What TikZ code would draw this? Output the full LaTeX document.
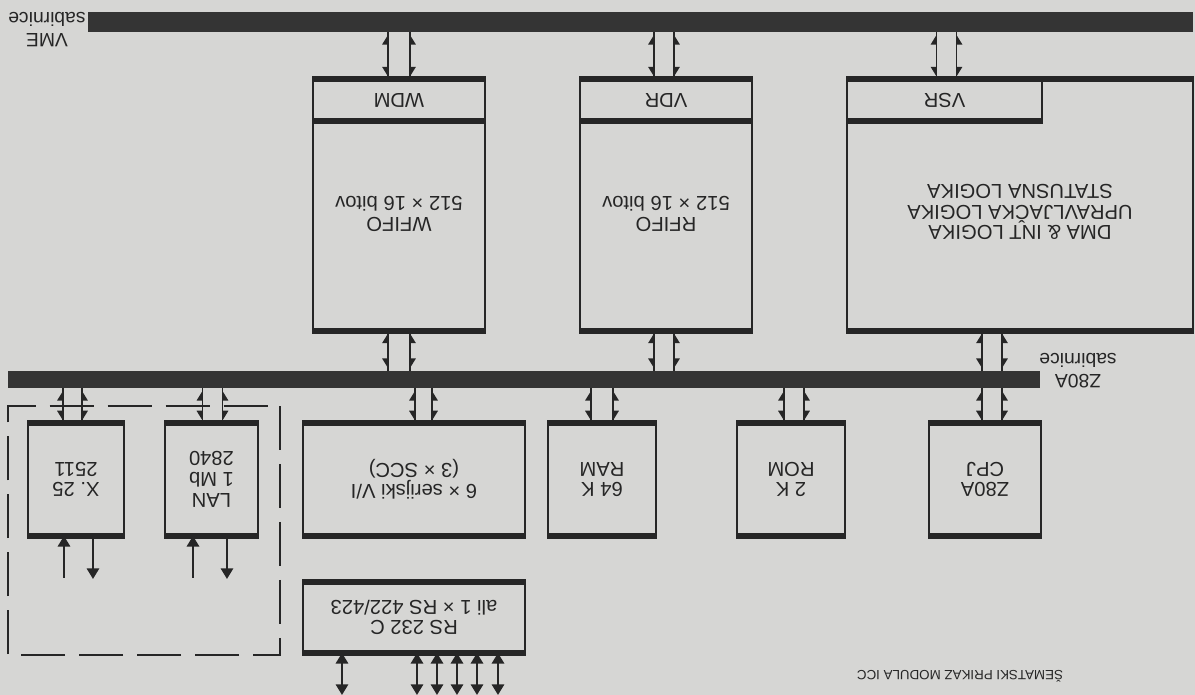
\documentclass[tikz,border=0pt]{standalone}
\usepackage{fontspec}
\setmainfont{Liberation Sans}
\usetikzlibrary{arrows.meta, calc, decorations.markings}
\definecolor{papir}{RGB}{214,214,212}
\definecolor{tinta}{RGB}{38,38,38}
\definecolor{sabirnica}{RGB}{52,52,52}

\begin{document}
\begin{tikzpicture}[
    x=0.02cm, y=0.02cm, rotate=180, transform shape,
    blok/.style={rectangle, draw=tinta, line width=1.1pt, inner sep=0pt},
    reg/.style={rectangle, draw=tinta, line width=1.1pt, inner sep=0pt, minimum height=0.8cm},
    rub/.style={draw=tinta, line width=3.2pt},
    bus/.style={rectangle, fill=sabirnica, inner sep=0pt},
    opis/.style={align=center, text=tinta, font=\fontsize{11.5}{11.8}\selectfont},
    naslov/.style={text=tinta, font=\fontsize{7.6}{9}\selectfont},
    spoj/.style={draw=tinta, line width=1.1pt, postaction={decorate, decoration={markings,
        mark=at position 0 with {\fill[tinta] (1.5pt,0pt) -- (7pt,0pt) -- (7pt,#1) -- cycle;},
        mark=at position 1 with {\fill[tinta] (-1.5pt,0pt) -- (-7pt,0pt) -- (-7pt,#1) -- cycle;}}}},
    spojl/.style={spoj=3.4pt},
    spojd/.style={spoj=-3.4pt},
    pijl/.style={draw=tinta, line width=1.1pt, -{Triangle[length=6pt, width=7pt]}},
    dvo/.style={draw=tinta, line width=1.1pt, {Triangle[length=6pt, width=7pt]}-{Triangle[length=6pt, width=7pt]}},
    okvir/.style={draw=tinta, line width=1.1pt, dash pattern=on 25pt off 8pt}
]
    \fill[papir] (0,0) rectangle (1195,695);
    \useasboundingbox (0,0) rectangle (1195,695);

    % Sabirnice
    \node[bus, minimum width=22.1cm, minimum height=0.4cm] (vme) at (554.5,22) {};
    \node[bus, minimum width=20.64cm, minimum height=0.34cm] (z80) at (671,379.5) {};
    \node[opis, font=\fontsize{11}{12}\selectfont] (vmetxt) at (1148,30) {VME\\sabirnice};
    \node[opis, font=\fontsize{11}{12}\selectfont] (z80txt) at (117,371) {Z80A\\sabirnice};

    % VME strana
    \node[blok, minimum width=3.44cm, minimum height=5cm] (wdm) at (796,205) {};
    \node[reg, opis, minimum width=3.44cm, anchor=south] (wdmreg) at (wdm.south) {WDM};
    \node[opis] (wfifo) at (796,214) {WFIFO\\512 × 16 bitov};

    \node[blok, minimum width=3.44cm, minimum height=5cm] (vdr) at (529,205) {};
    \node[reg, opis, minimum width=3.44cm, anchor=south] (vdrreg) at (vdr.south) {VDR};
    \node[opis] (rfifo) at (529,214) {RFIFO\\512 × 16 bitov};

    \node[blok, minimum width=6.92cm, minimum height=5cm] (dma) at (175,205) {};
    \node[reg, opis, minimum width=3.9cm, anchor=south east] (vsr) at (dma.south east) {VSR};
    \node[opis] (dmalog) at (175,212) {DMA \& INT LOGIKA\\UPRAVLJAČKA LOGIKA\\STATUSNA LOGIKA};

    % Z80A strana
    \node[blok, opis, minimum width=1.92cm, minimum height=2.22cm] (x25) at (1119,479.5) {X. 25\\2511};
    \node[blok, opis, minimum width=1.86cm, minimum height=2.22cm] (lan) at (983.5,479.5) {LAN\\1 Mb\\2840};
    \node[blok, opis, minimum width=4.44cm, minimum height=2.22cm] (sio) at (781,479.5) {6 × serijski V/I\\(3 × SCC)};
    \node[blok, opis, minimum width=2.16cm, minimum height=2.22cm] (ram) at (593,479.5) {64 K\\RAM};
    \node[blok, opis, minimum width=2.16cm, minimum height=2.22cm] (rom) at (404,479.5) {2 K\\ROM};
    \node[blok, opis, minimum width=2.24cm, minimum height=2.22cm] (cpu) at (210,479.5) {Z80A\\CPJ};
    \node[blok, opis, minimum width=4.44cm, minimum height=1.38cm] (rs) at (781,617.5) {RS 232 C\\ali 1 × RS 422/423};

    \node[naslov] (naslov) at (235,676) {ŠEMATSKI PRIKAZ MODULA ICC};

    % Debeli rubovi
    \draw[rub] (wdm.south west) -- (wdm.south east) (wdm.north west) -- (wdm.north east) (wdmreg.north west) -- (wdmreg.north east);
    \draw[rub] (vdr.south west) -- (vdr.south east) (vdr.north west) -- (vdr.north east) (vdrreg.north west) -- (vdrreg.north east);
    \draw[rub] (dma.south west) -- (dma.south east) (dma.north west) -- (dma.north east) (vsr.north west) -- (vsr.north east);
    \draw[rub] (x25.south west) -- (x25.south east) (x25.north west) -- (x25.north east);
    \draw[rub] (lan.south west) -- (lan.south east) (lan.north west) -- (lan.north east);
    \draw[rub] (sio.south west) -- (sio.south east) (sio.north west) -- (sio.north east);
    \draw[rub] (ram.south west) -- (ram.south east) (ram.north west) -- (ram.north east);
    \draw[rub] (rom.south west) -- (rom.south east) (rom.north west) -- (rom.north east);
    \draw[rub] (cpu.south west) -- (cpu.south east) (cpu.north west) -- (cpu.north east);
    \draw[rub] (rs.south west) -- (rs.south east) (rs.north west) -- (rs.north east);

    % Okvir X.25 i LAN
    \draw[okvir] (915,406) rectangle (1187,655);

    % Spojevi na VME sabirnicu
    \draw[spojl] ($(wdm.south |- vme.north)+(-11,0)$) -- ($(wdm.south)+(-11,0)$);
    \draw[spojd] ($(wdm.south |- vme.north)+(11,0)$) -- ($(wdm.south)+(11,0)$);
    \draw[spojl] ($(vdr.south |- vme.north)+(-8,0)$) -- ($(vdr.south)+(-8,0)$);
    \draw[spojd] ($(vdr.south |- vme.north)+(12,0)$) -- ($(vdr.south)+(12,0)$);
    \draw[spojl] ($(vsr.south |- vme.north)+(-12,0)$) -- ($(vsr.south)+(-12,0)$);
    \draw[spojd] ($(vsr.south |- vme.north)+(8,0)$) -- ($(vsr.south)+(8,0)$);

    % Spojevi na Z80A sabirnicu
    \draw[spojl] ($(wdm.north)+(-11,0)$) -- ($(wdm.north |- z80.south)+(-11,0)$);
    \draw[spojd] ($(wdm.north)+(11,0)$) -- ($(wdm.north |- z80.south)+(11,0)$);
    \draw[spojl] ($(vdr.north)+(-8,0)$) -- ($(vdr.north |- z80.south)+(-8,0)$);
    \draw[spojd] ($(vdr.north)+(12,0)$) -- ($(vdr.north |- z80.south)+(12,0)$);
    \draw[spojl] ($(dma.north)+(18,0)$) -- ($(dma.north |- z80.south)+(18,0)$);
    \draw[spojd] ($(dma.north)+(38,0)$) -- ($(dma.north |- z80.south)+(38,0)$);

    \draw[spojl] ($(x25.south |- z80.north)+(-6,0)$) -- ($(x25.south)+(-6,0)$);
    \draw[spojd] ($(x25.south |- z80.north)+(13,0)$) -- ($(x25.south)+(13,0)$);
    \draw[spojl] ($(lan.south |- z80.north)+(-11,0)$) -- ($(lan.south)+(-11,0)$);
    \draw[spojd] ($(lan.south |- z80.north)+(9,0)$) -- ($(lan.south)+(9,0)$);
    \draw[spojl] ($(sio.south |- z80.north)+(-18,0)$) -- ($(sio.south)+(-18,0)$);
    \draw[spojd] ($(sio.south |- z80.north)+(-1,0)$) -- ($(sio.south)+(-1,0)$);
    \draw[spojl] ($(ram.south |- z80.north)+(-11,0)$) -- ($(ram.south)+(-11,0)$);
    \draw[spojd] ($(ram.south |- z80.north)+(11,0)$) -- ($(ram.south)+(11,0)$);
    \draw[spojl] ($(rom.south |- z80.north)+(-13,0)$) -- ($(rom.south)+(-13,0)$);
    \draw[spojd] ($(rom.south |- z80.north)+(7,0)$) -- ($(rom.south)+(7,0)$);
    \draw[spojl] ($(cpu.south |- z80.north)+(-17,0)$) -- ($(cpu.south)+(-17,0)$);
    \draw[spojd] ($(cpu.south |- z80.north)+(3,0)$) -- ($(cpu.south)+(3,0)$);

    % Ulazi i izlazi
    \draw[pijl] ($(x25.north)+(12,42)$) -- ($(x25.north)+(12,0)$);
    \draw[pijl] ($(x25.north)+(-17,0)$) -- ($(x25.north)+(-17,43)$);
    \draw[pijl] ($(lan.north)+(18.5,42)$) -- ($(lan.north)+(18.5,0)$);
    \draw[pijl] ($(lan.north)+(-15.5,0)$) -- ($(lan.north)+(-15.5,43)$);

    \draw[dvo] ($(rs.north)+(72,0)$) -- ($(rs.north)+(72,42)$);
    \draw[dvo] ($(rs.north)+(-3,0)$) -- ($(rs.north)+(-3,42)$);
    \draw[dvo] ($(rs.north)+(-23,0)$) -- ($(rs.north)+(-23,42)$);
    \draw[dvo] ($(rs.north)+(-43,0)$) -- ($(rs.north)+(-43,42)$);
    \draw[dvo] ($(rs.north)+(-63,0)$) -- ($(rs.north)+(-63,42)$);
    \draw[dvo] ($(rs.north)+(-84,0)$) -- ($(rs.north)+(-84,42)$);
\end{tikzpicture}
\end{document}
